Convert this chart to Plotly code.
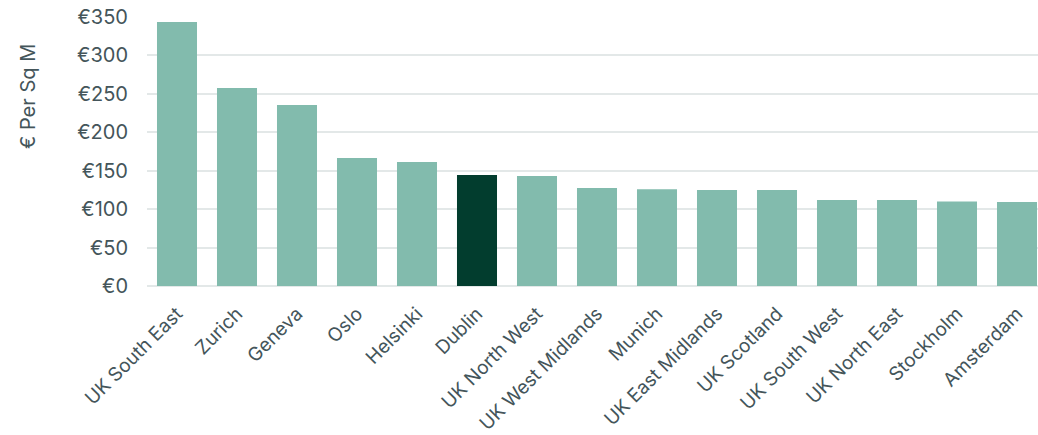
import plotly.graph_objects as go

categories = ["UK South East", "Zurich", "Geneva", "Oslo", "Helsinki", "Dublin",
              "UK North West", "UK West Midlands", "Munich", "UK East Midlands",
              "UK Scotland", "UK South West", "UK North East", "Stockholm", "Amsterdam"]
values = [343.5, 257.6, 235.6, 166.5, 161.3, 144.4, 143.1, 127.5, 125.8, 124.9,
          124.9, 111.9, 111.9, 109.9, 109.3]
highlight = "Dublin"
tick_vals = [0, 50, 100, 150, 200, 250, 300, 350]
tick_text = ["€0", "€50", "€100", "€150", "€200", "€250", "€300", "€350"]
y_title = "€ Per Sq M"

colors = ["#023D2E" if c == highlight else "#82BBAD" for c in categories]

fig = go.Figure(go.Bar(x=categories, y=values, marker=dict(color=colors, line=dict(width=0)),
                       hoverinfo="x+y"))

font_family = "Inter, Roboto, sans-serif"
fig.update_layout(
    width=1038, height=435,
    margin=dict(l=147, r=0, t=17, b=149, autoexpand=False),
    plot_bgcolor="white", paper_bgcolor="white",
    bargap=0.333,
    showlegend=False,
    font=dict(family=font_family, color="#44555A", size=20),
)
fig.update_xaxes(range=[-0.5, 14.35], tickangle=-45, tickfont=dict(size=19, color="#44555A"),
                 showgrid=False, showline=False, ticks="", automargin=False,
                 ticklabelstandoff=12)
fig.update_yaxes(range=[0, 350], tickvals=tick_vals, ticktext=tick_text,
                 tickfont=dict(size=20, color="#44555A"),
                 showgrid=True, gridcolor="#E3E8E8", gridwidth=2,
                 zeroline=True, zerolinecolor="#E3E8E8", zerolinewidth=2,
                 showline=False, ticks="", ticklabelstandoff=18,
                 automargin=False)
fig.add_annotation(text=y_title, xref="paper", yref="paper",
                   x=(28 - 147) / 891, y=(286 - 97) / 269, textangle=-90,
                   showarrow=False, xanchor="center", yanchor="middle",
                   font=dict(size=20, color="#44555A"))

fig.write_html("out.html")
